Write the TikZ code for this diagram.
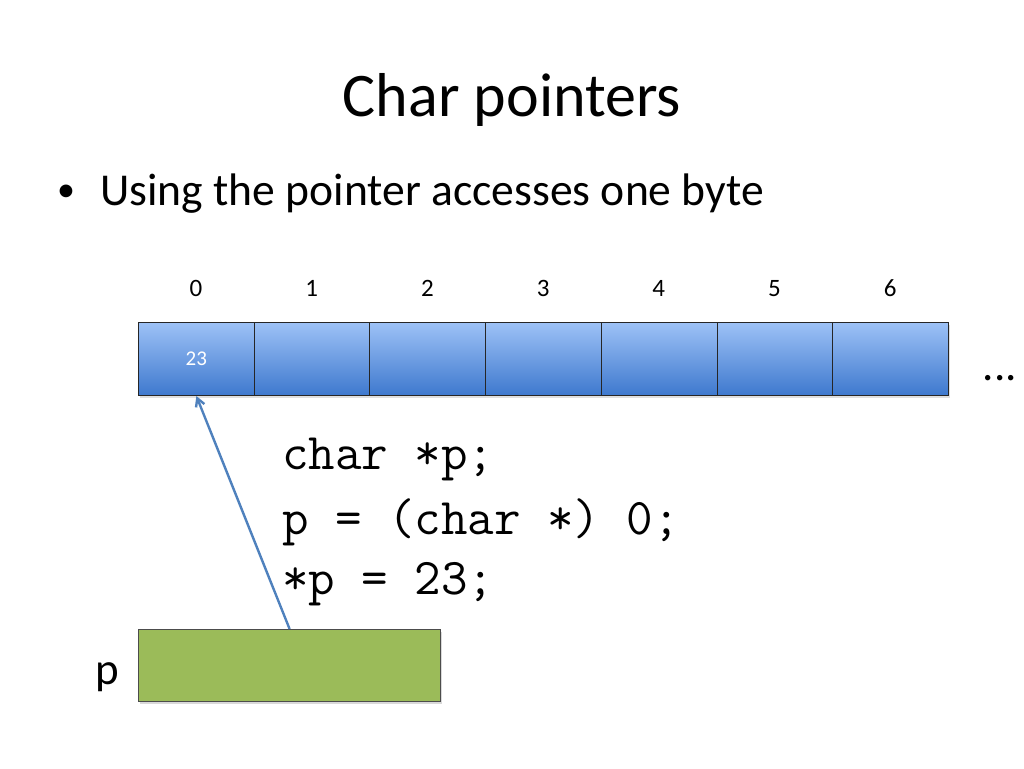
\documentclass[tikz,border=0pt]{standalone}
\usepackage{fontspec}
\setmainfont{Carlito}
\usetikzlibrary{arrows.meta,shadows,calc}
\definecolor{celltop}{HTML}{9DC1F6}
\definecolor{cellbot}{HTML}{3E79CE}
\definecolor{ptrgreen}{HTML}{9BBB59}
\definecolor{arrowblue}{HTML}{4F81BD}
\tikzset{
  cell/.style={draw=black!85, line width=1pt, minimum width=115.7pt, minimum height=73pt,
    inner sep=0pt, anchor=north west, top color=celltop, bottom color=cellbot,
    drop shadow={opacity=0.25, shadow xshift=1.5pt, shadow yshift=-2.5pt}},
  idx/.style={font=\fontsize{25}{30}\selectfont, anchor=base},
  code/.style={font=\ttfamily\fontsize{51.5}{56}\selectfont, anchor=base west, inner sep=0pt},
  ptrbox/.style={draw=black!70, line width=1.2pt, fill=ptrgreen, minimum width=302pt,
    minimum height=72pt, inner sep=0pt, anchor=north west,
    drop shadow={opacity=0.3, shadow xshift=1.5pt, shadow yshift=-2.5pt}},
  ptrarrow/.style={draw=arrowblue, line width=2.4pt, -{Straight Barb[length=8pt,width=9pt]}}
}
\begin{document}
\begin{tikzpicture}[x=1pt,y=-1pt]
\useasboundingbox (0,0) rectangle (1024,768);
\node (title) at (512,100) {\fontsize{62}{70}\selectfont Char pointers};
\node[anchor=base west, inner sep=0pt] (bullet) at (100,205) {\fontsize{45.6}{52}\selectfont Using the pointer accesses one byte};
\node[inner sep=0pt] (dot) at (66,193) {\fontsize{36}{40}\selectfont •};
\foreach \i in {0,...,6} {
  \node[cell] (c\i) at ({138+115.7*\i},322) {};
  \node[idx] (n\i) at ({196+115.7*\i},296) {\i};
}
\node[font=\fontsize{21}{25}\selectfont, text=white] (v0) at (c0.center) {23};
\node[anchor=base, inner sep=0pt] (dots) at (1000,380) {\fontsize{45}{52}\selectfont ...};
\node[code] (l1) at (282,469) {char *p;};
\node[code] (l2) at (282,534) {p = (char *) 0;};
\node[code] (l3) at (282,594) {*p = 23;};
\node[ptrbox] (g) at (138,629) {};
\node[anchor=base, inner sep=0pt] (plabel) at (107,684) {\fontsize{45}{52}\selectfont p};
\draw[ptrarrow] (g.north) -- (c0.south);
\end{tikzpicture}
\end{document}
